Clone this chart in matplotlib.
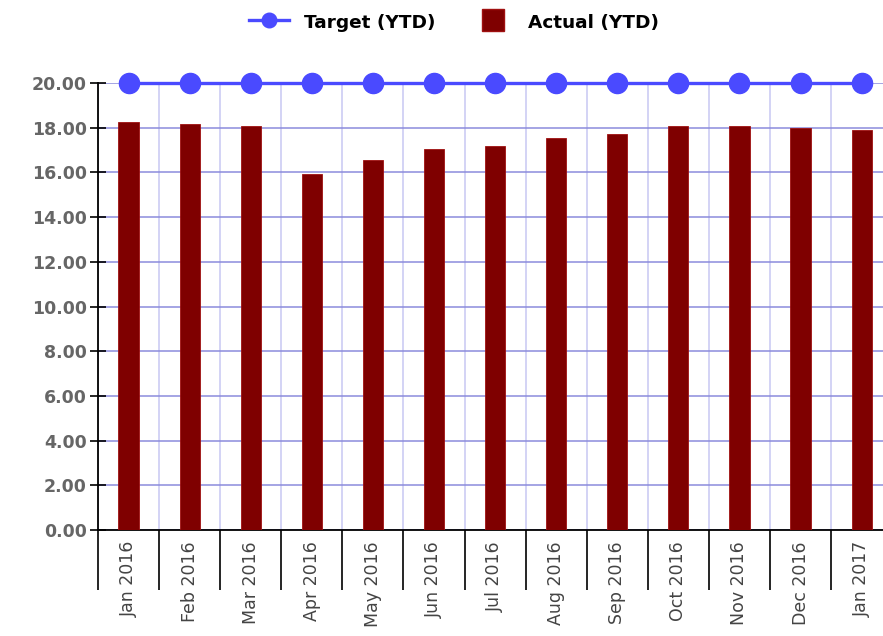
import numpy as np
import matplotlib
matplotlib.use('Agg')
import matplotlib.pyplot as plt
from matplotlib.lines import Line2D

# Monthly YTD values
months = ['Jan 2016', 'Feb 2016', 'Mar 2016', 'Apr 2016', 'May 2016', 'Jun 2016',
          'Jul 2016', 'Aug 2016', 'Sep 2016', 'Oct 2016', 'Nov 2016', 'Dec 2016', 'Jan 2017']
actual_ytd = [18.26, 18.17, 18.08, 15.93, 16.55, 17.05, 17.18, 17.54, 17.72, 18.06, 18.06, 17.97, 17.90]
target_ytd = [20.0] * 13
y_ticks = np.arange(0, 20.1, 2)

BAR_COLOR = '#7f0000'
LINE_COLOR = '#4a4aff'

fig = plt.figure(figsize=(8.83, 6.36), dpi=100)
ax = fig.add_axes([98 / 883, 1 - 530 / 636, 1 - 98 / 883, (530 - 83) / 636])

x = np.arange(len(months))
ax.bar(x, actual_ytd, width=0.33, color=BAR_COLOR, edgecolor='#a01010', linewidth=0.6, zorder=3)
ax.plot(x, target_ytd, color=LINE_COLOR, linewidth=2.4, marker='o', markersize=14.5,
        zorder=4, clip_on=False)

# y axis
ax.set_yticks(y_ticks)
ax.set_yticklabels([f'{v:.2f}' for v in y_ticks])
ax.tick_params(axis='y', direction='inout', length=12, width=1.2, color='black',
               labelsize=12.5, labelcolor='#666666', pad=2)
for lbl in ax.get_yticklabels():
    lbl.set_fontweight('bold')
ax.yaxis.grid(True, color='#8c8cdc', linewidth=1.1, zorder=0)

# x axis: labels at centers, long ticks + grid at boundaries
ax.set_xticks(x)
ax.set_xticklabels(months, rotation=90, fontsize=12.5, color='#444444')
ax.tick_params(axis='x', which='major', length=0, pad=8)
ax.set_xticks(np.arange(-0.5, 12.6, 1), minor=True)
ax.tick_params(axis='x', which='minor', direction='out', length=43, width=1.2, color='black')
ax.xaxis.grid(True, which='minor', color='#c8c8f2', linewidth=1.1, zorder=0)
ax.set_axisbelow(True)

# limits after ticks so they are not widened
ax.set_ylim(0, 20)
ax.set_xlim(-0.5, 12.35)

for side in ['top', 'right']:
    ax.spines[side].set_visible(False)
for side in ['left', 'bottom']:
    ax.spines[side].set_linewidth(1.3)
    ax.spines[side].set_color('black')

handles = [Line2D([0], [0], color=LINE_COLOR, linewidth=2.4, marker='o', markersize=10.5),
           Line2D([0], [0], linestyle='none', marker='s', markersize=16.5,
                  markerfacecolor=BAR_COLOR, markeredgecolor='#a01010')]
leg = fig.legend(handles, ['Target (YTD)', 'Actual (YTD)'], loc='upper center',
                 bbox_to_anchor=(0.514, 1.007), ncol=2, frameon=False,
                 prop={'weight': 'bold', 'size': 13.3}, handlelength=2.16,
                 handleheight=1.3, columnspacing=2.05, handletextpad=0.8)

fig.savefig('out.png', dpi=100)
